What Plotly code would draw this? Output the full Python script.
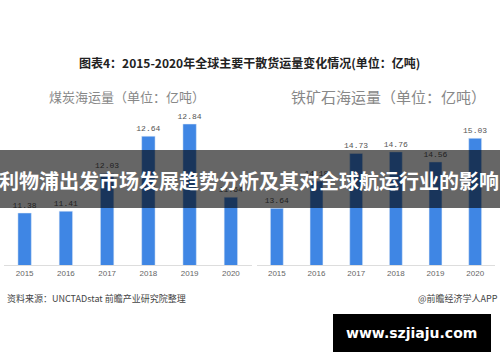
import plotly.graph_objects as go

years = ["2015", "2016", "2017", "2018", "2019", "2020"]
coal = [11.38, 11.41, 12.03, 12.64, 12.84, 11.64]
iron = [13.64, 14.18, 14.73, 14.76, 14.56, 15.03]
coal_labels = ["11.38", "11.41", "12.03", "12.64", "12.84", "11.64"]
iron_labels = ["13.64", "14.18", "14.73", "14.76", "14.56", "15.03"]

W, H = 500, 362
def px(x): return x / W
def py(y): return 1 - y / H

bar_color = "#3f86e4"
label_font = dict(family="Liberation Mono, DejaVu Sans Mono, monospace", size=8, color="#555555")

fig = go.Figure()
fig.add_trace(go.Bar(x=years, y=coal, text=coal_labels, textposition="outside",
                     textfont=label_font, marker_color=bar_color, cliponaxis=False,
                     constraintext="none", xaxis="x", yaxis="y", hoverinfo="skip"))
fig.add_trace(go.Bar(x=years, y=iron, text=iron_labels, textposition="outside",
                     textfont=label_font, marker_color=bar_color, cliponaxis=False,
                     constraintext="none", xaxis="x2", yaxis="y2", hoverinfo="skip"))

tick_font = dict(family="Liberation Sans, Arial, sans-serif", size=8, color="#666666")
y_bottom, y_top = py(265), py(110)

fig.update_layout(
    width=W, height=H, margin=dict(l=0, r=0, t=0, b=0),
    paper_bgcolor="white", plot_bgcolor="white", showlegend=False,
    bargap=0.675,
    xaxis=dict(domain=[px(4), px(251.5)], anchor="y", showline=True, linecolor="#dddddd",
               linewidth=1, ticks="", tickfont=tick_font, showgrid=False, fixedrange=True),
    yaxis=dict(domain=[y_bottom, y_top], range=[10.527, 13.07], visible=False, fixedrange=True),
    xaxis2=dict(domain=[px(257), px(495)], anchor="y2", showline=True, linecolor="#dddddd",
                linewidth=1, ticks="", tickfont=tick_font, showgrid=False, fixedrange=True),
    yaxis2=dict(domain=[y_bottom, y_top], range=[12.514, 15.592], visible=False, fixedrange=True),
)

cjk = "Noto Sans CJK SC, sans-serif"
ann = []
ann.append(dict(text="<b>图表4：2015-2020年全球主要干散货运量变化情况(单位：亿吨)</b>",
                x=px(249), y=py(62), xref="paper", yref="paper", showarrow=False,
                xanchor="center", yanchor="middle", font=dict(family=cjk, size=12, color="#222222")))
ann.append(dict(text="煤炭海运量（单位：亿吨）", x=px(47), y=py(96), xref="paper", yref="paper",
                showarrow=False, xanchor="left", yanchor="middle",
                font=dict(family=cjk, size=13, color="#888888")))
ann.append(dict(text="铁矿石海运量（单位：亿吨）", x=px(289), y=py(96), xref="paper", yref="paper",
                showarrow=False, xanchor="left", yanchor="middle",
                font=dict(family=cjk, size=15, color="#888888")))
ann.append(dict(text="资料来源：UNCTADstat 前瞻产业研究院整理", x=px(5), y=py(298), xref="paper", yref="paper",
                showarrow=False, xanchor="left", yanchor="middle",
                font=dict(family=cjk, size=9, color="#444444")))
ann.append(dict(text="@前瞻经济学人APP", x=px(500), y=py(298), xref="paper", yref="paper",
                showarrow=False, xanchor="right", yanchor="middle",
                font=dict(family=cjk, size=9, color="#444444")))
ann.append(dict(text="<b>利物浦出发市场发展趋势分析及其对全球航运行业的影响</b>", x=px(249), y=py(180),
                xref="paper", yref="paper", showarrow=False, xanchor="center", yanchor="middle",
                font=dict(family=cjk, size=20, color="white")))
ann.append(dict(text="<b>www.szjiaju.com</b>", x=px(411), y=py(333), xref="paper", yref="paper",
                showarrow=False, xanchor="center", yanchor="middle",
                font=dict(family="DejaVu Sans, sans-serif", size=14, color="white")))
fig.update_layout(annotations=ann)

fig.update_layout(shapes=[
    dict(type="rect", xref="paper", yref="paper", x0=0, x1=1, y0=py(208), y1=py(150),
         fillcolor="rgba(0,0,0,0.6)", line=dict(width=0), layer="above"),
    dict(type="rect", xref="paper", yref="paper", x0=px(333), x1=px(491), y0=py(352), y1=py(314),
         fillcolor="black", line=dict(width=0), layer="above"),
])

fig.write_html("out.html", config={"displayModeBar": False},
               post_script="document.body.style.margin='0';document.body.style.overflow='hidden';")
